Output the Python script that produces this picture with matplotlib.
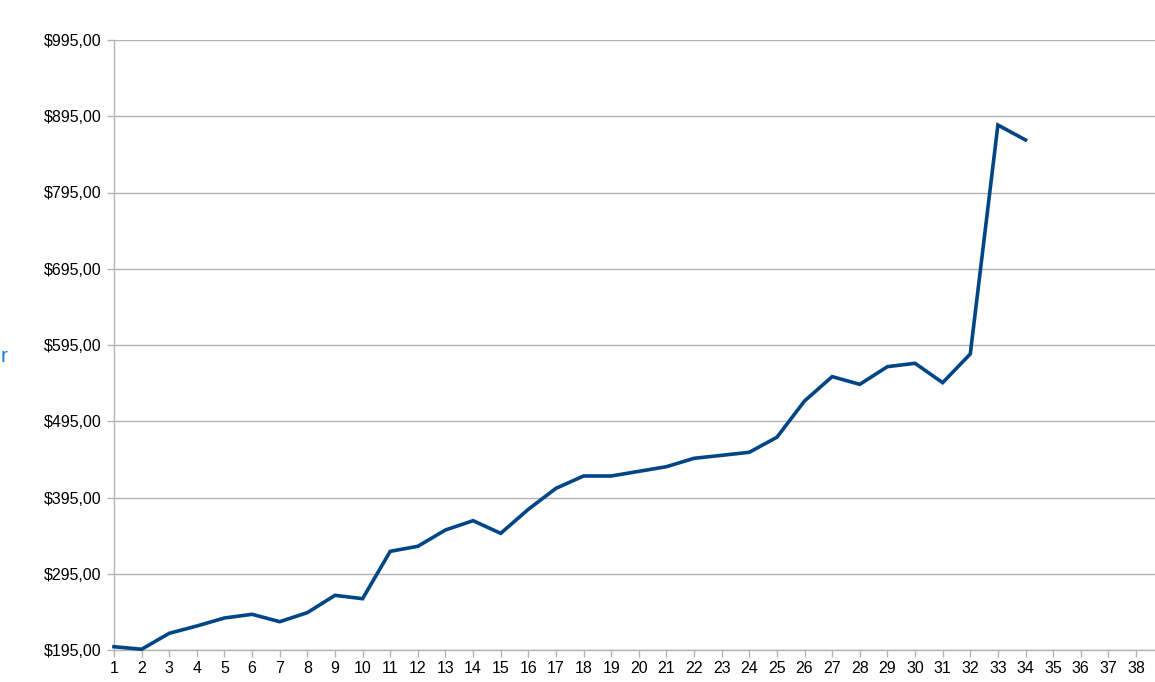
import matplotlib
matplotlib.use("Agg")
import matplotlib.pyplot as plt

plt.rcParams['font.family'] = ['Liberation Sans', 'DejaVu Sans']

categories = list(range(1, 39))
values = [199.3, 196.0, 216.9, 226.5, 237.0, 241.8, 232.1, 244.0, 266.7, 262.3,
          324.4, 331.0, 352.4, 364.6, 348.0, 379.5, 407.0, 423.2, 423.2, 429.3,
          435.4, 446.4, 450.3, 454.3, 474.0, 521.6, 553.5, 543.4, 566.6, 571.0,
          545.6, 583.2, 883.5, 863.9]
y_ticks = [195, 295, 395, 495, 595, 695, 795, 895, 995]
y_labels = ["$195,00", "$295,00", "$395,00", "$495,00", "$595,00",
            "$695,00", "$795,00", "$895,00", "$995,00"]

W, H = 1155, 682
fig = plt.figure(figsize=(W / 100, H / 100), dpi=100)
left, right, top, bottom = 114, 1155, 40, 650
ax = fig.add_axes([left / W, (H - bottom) / H, (right - left) / W, (bottom - top) / H])

xs = categories[:len(values)]
ax.plot(xs, values, color='#004586', linewidth=2.6, solid_joinstyle='miter', clip_on=False, zorder=3)

ax.set_ylim(195, 995)
ax.set_xlim(1, 38 + (1155 - 1136) / 27.62)
ax.set_yticks(y_ticks)
ax.set_yticklabels(y_labels)
ax.set_xticks(categories)
ax.set_xticklabels([str(c) for c in categories])

grid_c = '#b3b3b3'
ax.grid(axis='y', color=grid_c, linewidth=1.0)
ax.set_axisbelow(True)
for s in ['top', 'right']:
    ax.spines[s].set_visible(False)
for s in ['left', 'bottom']:
    ax.spines[s].set_color(grid_c)
    ax.spines[s].set_linewidth(1.0)
ax.tick_params(axis='both', colors=grid_c, length=5, width=1.0, labelcolor='black', labelsize=11.5)
ax.tick_params(axis='y', pad=4)
ax.tick_params(axis='x', pad=3)

fig.text(1 / W, 1 - 357 / H, "r", ha='left', va='center', fontsize=15, color='#1c7cd5')

fig.savefig("out.png", dpi=100, facecolor='white')
